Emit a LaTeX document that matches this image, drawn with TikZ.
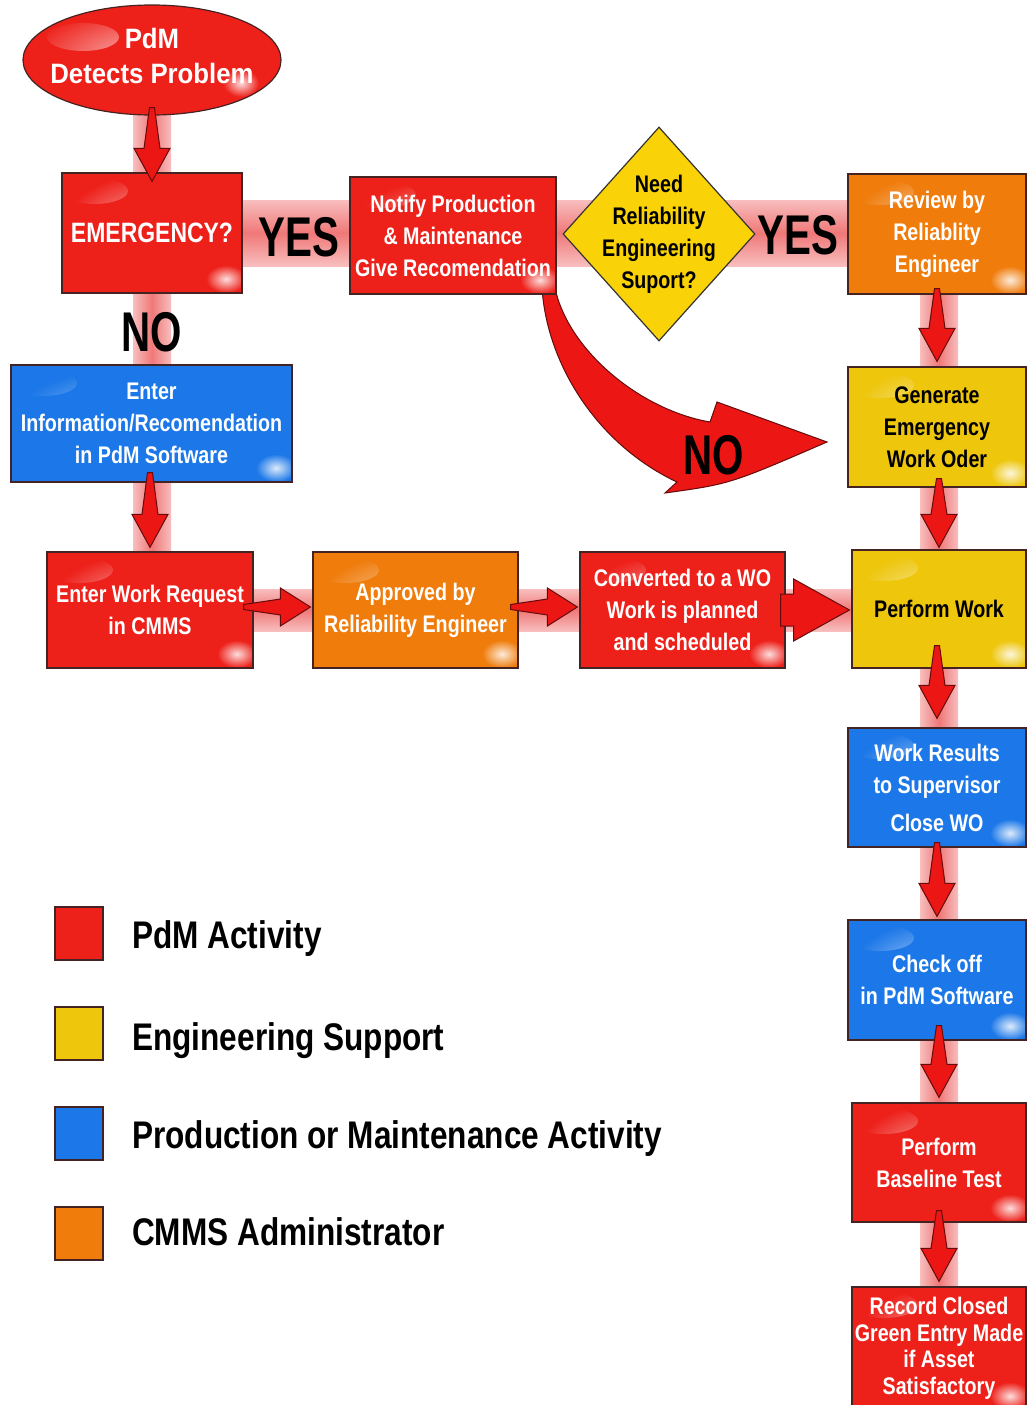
\documentclass[tikz,border=0pt]{standalone}
\usepackage{fontspec}
\setmainfont{Liberation Sans}
\newfontfamily\bxf{Liberation Sans}[FakeStretch=0.82]
\newfontfamily\bgf{Liberation Sans}[FakeStretch=0.72]
\newfontfamily\elf{Liberation Sans}[FakeStretch=0.92]
\usetikzlibrary{shapes.geometric,calc}
\definecolor{rbox}{RGB}{238,32,26}
\definecolor{obox}{RGB}{240,124,12}
\definecolor{ybox}{RGB}{238,198,12}
\definecolor{ydia}{RGB}{250,210,8}
\definecolor{bbox}{RGB}{28,120,232}
\definecolor{bdr}{RGB}{70,35,35}
\definecolor{arrred}{RGB}{236,22,20}
\definecolor{arrbdr}{RGB}{100,12,12}
\definecolor{bandm}{RGB}{240,120,120}
\definecolor{bandl}{RGB}{248,190,190}
\tikzset{
  gloss/.style={path picture={
    \shade[inner color=white, outer color=#1, opacity=0.75] ($(path picture bounding box.north west)+(32,18)$) ellipse [x radius=34pt, y radius=13pt];
    \shade[inner color=white, outer color=#1, opacity=0.85] ($(path picture bounding box.south east)+(-16,-14)$) ellipse [x radius=20pt, y radius=14pt];
  }},
  box/.style={rectangle, draw=bdr, line width=1.2pt, fill=#1, gloss=#1, inner sep=0pt,
    align=center, font=\bxf\bfseries\fontsize{24}{32}\selectfont},
  wbox/.style={box=#1, text=white},
  kbox/.style={box=#1, text=black},
  ell/.style={ellipse, draw=bdr, line width=1.2pt, fill=rbox, inner sep=0pt,
    minimum width=258pt, minimum height=110pt,
    path picture={
    \shade[inner color=white, outer color=rbox, opacity=0.75] ($(path picture bounding box.north west)+(60,32)$) ellipse [x radius=36pt, y radius=14pt];
    \shade[inner color=white, outer color=rbox, opacity=0.85] ($(path picture bounding box.south east)+(-40,-32)$) ellipse [x radius=18pt, y radius=14pt];}},
  ellt/.style={align=center, inner sep=0pt, text=white, font=\elf\bfseries\fontsize{28}{35}\selectfont},
  dia/.style={diamond, draw=black!80, line width=1.2pt, fill=ydia, inner sep=0pt,
    minimum width=192pt, minimum height=214pt},
  diat/.style={align=center, inner sep=0pt, text=black, font=\bxf\bfseries\fontsize{24}{32}\selectfont},
  big/.style={inner sep=0pt, text=black, font=\bgf\bfseries\fontsize{56}{56}\selectfont},
  arr/.style={fill=arrred, draw=arrbdr, line width=1pt, line join=miter},
  vband/.style={left color=bandl, right color=bandl, middle color=bandm},
  hband/.style={top color=bandl, bottom color=bandl, middle color=bandm},
  leg/.style={rectangle, draw=bdr, line width=1.2pt, fill=#1, minimum width=48pt, minimum height=53pt, inner sep=0pt},
  legt/.style={anchor=base west, inner sep=0pt, text=black, font=\bxf\bfseries\fontsize{38.5}{40}\selectfont},
}
\newcommand\darr[2]{\draw[arr] ($(#1 -| #2)+(-2.5,0)$) -- ($(#1 -| #2)+(2.5,0)$) -- ($(#2)+(8,-33)$) -- ($(#2)+(18,-33)$) -- (#2) -- ($(#2)+(-18,-33)$) -- ($(#2)+(-8,-33)$) -- cycle;}
\newcommand\rarr[2]{\draw[arr] ($(#1 |- #2)+(0,-2.5)$) -- ($(#2)+(-30,-8)$) -- ($(#2)+(-30,-19)$) -- (#2) -- ($(#2)+(-30,19)$) -- ($(#2)+(-30,8)$) -- ($(#1 |- #2)+(0,2.5)$) -- cycle;}
\begin{document}
\begin{tikzpicture}[x=1pt,y=-1pt]
\useasboundingbox (0,0) rectangle (1029,1405);
\fill[white] (0,0) rectangle (1029,1405);
% bands
\shade[vband] (133,100) rectangle (171,562);
\shade[vband] (920,290) rectangle (958,1405);
\shade[hband] (240,200) rectangle (850,266);
\shade[hband] (250,589) rectangle (855,631);
% curved NO arrow (drawn beneath boxes)
\coordinate (notip) at (827,442);
\draw[arr] (542,288) .. controls (547,365) and (598,445) .. (677,482) -- (665,493)
   .. controls (730,484) .. (notip) -- (717,402) -- (710,422)
   .. controls (640,410) and (568,350) .. (555,288) -- cycle;
% boxes
\node[ell] (det) at (152,60) {};
\node[ellt] (dett) at (152,56) {PdM\\Detects Problem};
\node[wbox=rbox, minimum width=180pt, minimum height=120pt, font=\bxf\bfseries\fontsize{28}{32}\selectfont] (emerg) at (152,233) {EMERGENCY?};
\node[wbox=rbox, minimum width=206pt, minimum height=117pt] (notify) at (453,235.5) {Notify Production\\\& Maintenance\\Give Recomendation};
\node[dia] (need) at (659,234) {};
\node[diat] (needt) at (need.center) {Need\\Reliability\\Engineering\\Suport?};
\node[wbox=obox, minimum width=178pt, minimum height=120pt] (review) at (937,234) {Review by\\Reliablity\\Engineer};
\node[kbox=ybox, minimum width=178pt, minimum height=120pt] (gen) at (937,427) {Generate\\Emergency\\Work Oder};
\node[wbox=bbox, minimum width=281pt, minimum height=117pt] (info) at (151.5,423.5) {Enter\\Information/Recomendation\\in PdM Software};
\node[wbox=rbox, minimum width=206pt, minimum height=116pt] (ewr) at (150,610) {Enter Work Request\\in CMMS};
\node[wbox=obox, minimum width=205pt, minimum height=116pt] (appr) at (415.5,610) {Approved by\\Reliability Engineer};
\node[wbox=rbox, minimum width=205pt, minimum height=116pt] (conv) at (682.5,610) {Converted to a WO\\Work is planned\\and scheduled};
\node[kbox=ybox, minimum width=174pt, minimum height=118pt] (pw) at (939,609) {Perform Work};
\node[wbox=bbox, minimum width=178pt, minimum height=119pt] (res) at (937,787.5) {Work Results\\to Supervisor\\[6pt]Close WO};
\node[wbox=bbox, minimum width=178pt, minimum height=120pt] (chk) at (937,980) {Check off\\in PdM Software};
\node[wbox=rbox, minimum width=174pt, minimum height=119pt] (base) at (939,1162.5) {Perform\\Baseline Test};
\node[wbox=rbox, minimum width=174pt, minimum height=123pt, font=\bxf\bfseries\fontsize{24}{26.5}\selectfont] (rec) at (939,1348.5) {Record Closed\\Green Entry Made\\if Asset\\Satisfactory};
% vertical arrows
\coordinate (s1) at ($(det.south)+(0,-8)$);
\coordinate (t1) at ($(emerg.north)+(0,9)$);
\coordinate (s2) at ($(info.south)+(0,-10)$);
\coordinate (t2) at ($(ewr.north)+(0,-4)$);
\coordinate (s3) at ($(review.south)+(0,-6)$);
\coordinate (t3) at ($(gen.north)+(0,-5)$);
\coordinate (s4) at ($(gen.south)+(0,-9)$);
\coordinate (t4) at ($(pw.north)+(0,-2)$);
\coordinate (s5) at ($(pw.south)+(0,-23)$);
\coordinate (t5) at ($(res.north)+(0,-9)$);
\coordinate (s6) at ($(res.south)+(0,-5)$);
\coordinate (t6) at ($(chk.north)+(0,-3)$);
\coordinate (s7) at ($(chk.south)+(0,-15)$);
\coordinate (t7) at ($(base.north)+(0,-5)$);
\coordinate (s8) at ($(base.south)+(0,-12)$);
\coordinate (t8) at ($(rec.north)+(0,-5)$);
\darr{s1}{t1}
\darr{s2}{t2}
\darr{s3}{t3}
\darr{s4}{t4}
\darr{s5}{t5}
\darr{s6}{t6}
\darr{s7}{t7}
\darr{s8}{t8}
% horizontal arrows
\coordinate (s9) at ($(ewr.east)+(-10,0)$);
\coordinate (t9) at ($(appr.west)+(-2,-3)$);
\coordinate (s10) at ($(appr.east)+(-8,0)$);
\coordinate (t10) at ($(conv.west)+(-2,-3)$);
\rarr{s9}{t9}
\rarr{s10}{t10}
\coordinate (t11) at ($(pw.west)+(-2,1)$);
\draw[arr] ($(conv.east)+(-5,-16)$) -- ($(conv.east)+(8,-16)$) -- ($(conv.east)+(8,-31)$) -- (t11)
  -- ($(conv.east)+(8,31)$) -- ($(conv.east)+(8,16)$) -- ($(conv.east)+(-5,16)$) -- cycle;
% labels
\node[big] (yes1) at (299,237) {YES};
\node[big] (yes2) at (798,235) {YES};
\node[big] (no1) at (152,332) {NO};
\node[big] (no2) at (714,455) {NO};
% legend
\node[leg=rbox] (l1) at (79,933.5) {};
\node[leg=ybox] (l2) at (79,1033.5) {};
\node[leg=bbox] (l3) at (79,1133.5) {};
\node[leg=obox] (l4) at (79,1233.5) {};
\node[legt] (lt1) at (132,948) {PdM Activity};
\node[legt] (lt2) at (132,1050) {Engineering Support};
\node[legt] (lt3) at (132,1148) {Production or Maintenance Activity};
\node[legt] (lt4) at (132,1245) {CMMS Administrator};
\end{tikzpicture}
\end{document}
